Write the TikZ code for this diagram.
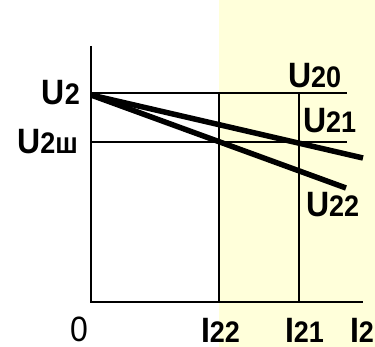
\documentclass[tikz,border=0pt]{standalone}
\usepackage{fontspec}
\setmainfont{Liberation Sans}
\definecolor{paleyellow}{HTML}{FFFFDA}
\newcommand\mylab[2]{\scalebox{1}[1.1]{{\fontsize{32pt}{32pt}\selectfont\bfseries #1}{\fontsize{27pt}{27pt}\selectfont\bfseries #2}}}
\begin{document}
\begin{tikzpicture}[x=1pt,y=-1pt,
  thin line/.style={line width=2pt,line cap=butt},
  thick line/.style={line width=5.5pt,line cap=butt},
  lab/.style={inner sep=0pt,outer sep=0pt}]
\useasboundingbox (0,0) rectangle (375,347);
\fill[paleyellow] (219,0) rectangle (375,347);
% coordinates
\coordinate (ytop) at (91,46);
\coordinate (orig) at (91,302);
\coordinate (xend) at (363,302);
\coordinate (u2l) at (91,93);
\coordinate (u2r) at (347,93);
\coordinate (ushl) at (91,141.7);
\coordinate (ushr) at (347,141.7);
\coordinate (i22t) at (219,93);
\coordinate (i22b) at (219,302);
\coordinate (i21t) at (299,93);
\coordinate (i21b) at (299,302);
\coordinate (start) at (91,95);
\coordinate (e21) at (363,158);
\coordinate (e22) at (346,188);
% axes and grid lines
\draw[thin line] (ytop) -- (orig) -- (xend);
\draw[thin line] (u2l) -- (u2r);
\draw[thin line] (ushl) -- (ushr);
\draw[thin line] (i22t) -- (i22b);
\draw[thin line] (i21t) -- (i21b);
% characteristics
\draw[thick line] (start) -- (e21);
\draw[thick line] (start) -- (e22);
% labels
\node[lab,anchor=base east] (lu2) at (80,105) {\mylab{U}{2}};
\node[lab,anchor=base east] (lu2sh) at (78,154) {\mylab{U}{2ш}};
\node[lab,anchor=base west] (lu20) at (288,88) {\mylab{U}{20}};
\node[lab,anchor=base west] (lu21) at (303,133) {\mylab{U}{21}};
\node[lab,anchor=base west] (lu22) at (306,217) {\mylab{U}{22}};
\node[lab,anchor=base west] (l0) at (70,342) {\scalebox{1}[1.1]{\fontsize{32pt}{32pt}\selectfont 0}};
\node[lab,anchor=base west] (li22) at (201,343) {\mylab{I}{22}};
\node[lab,anchor=base west] (li21) at (285,343) {\mylab{I}{21}};
\node[lab,anchor=base west] (li2) at (350,343) {\mylab{I}{2}};
\end{tikzpicture}
\end{document}
